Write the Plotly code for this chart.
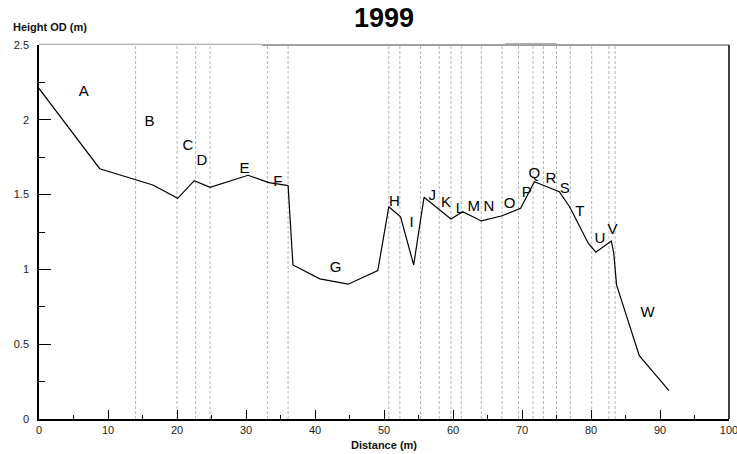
import plotly.graph_objects as go

# Surveyed cross-section profile, 1999
distance = [0.0, 8.8, 16.5, 20.1, 22.5, 24.8, 30.3, 33.3, 36.1, 36.8, 40.7, 44.8,
            49.1, 50.7, 52.4, 54.3, 55.8, 59.7, 61.4, 64.1, 67.0, 69.8, 71.8,
            75.4, 76.9, 79.6, 80.7, 82.95, 83.3, 83.7, 87.0, 91.3]
height = [2.21, 1.673, 1.564, 1.475, 1.593, 1.549, 1.629, 1.58, 1.56, 1.03, 0.937, 0.901,
          0.992, 1.419, 1.352, 1.03, 1.482, 1.337, 1.386, 1.324, 1.357, 1.408, 1.586,
          1.519, 1.419, 1.175, 1.115, 1.19, 1.108, 0.897, 0.423, 0.189]

# Zone boundaries (m)
boundaries = [14.0, 20.0, 22.7, 24.8, 33.1, 36.1, 50.7, 52.3, 55.3, 58.0, 59.7, 61.2,
              64.1, 67.1, 69.5, 71.6, 73.1, 75.0, 77.0, 80.1, 82.6, 83.5]

# Zone labels and where they are written
zone_names = list("ABCDEFGHIJKLMNOPQRSTUVW")
zone_x = [6.5, 16.0, 21.6, 23.6, 29.8, 34.6, 43.0, 51.5, 54.0, 57.0, 59.0, 61.0,
          63.0, 65.2, 68.2, 70.7, 71.8, 74.2, 76.2, 78.4, 81.3, 83.1, 88.2]
zone_y = [2.185, 1.985, 1.82, 1.72, 1.67, 1.585, 1.01, 1.45, 1.31, 1.49, 1.445, 1.405,
          1.415, 1.415, 1.435, 1.51, 1.637, 1.60, 1.538, 1.385, 1.20, 1.26, 0.71]

x_ticks = [0, 10, 20, 30, 40, 50, 60, 70, 80, 90, 100]
y_ticks = [0, 0.5, 1, 1.5, 2, 2.5]

FONT = "Liberation Sans, Arial, sans-serif"

fig = go.Figure()

fig.add_trace(go.Scatter(
    x=distance, y=height, mode="lines",
    line=dict(color="black", width=1.2),
    hoverinfo="skip", showlegend=False,
))

fig.add_trace(go.Scatter(
    x=zone_x, y=zone_y, mode="text", text=zone_names,
    textfont=dict(family=FONT, size=15, color="black"),
    textposition="middle center",
    hoverinfo="skip", showlegend=False,
))

shapes = []
for b in boundaries:
    shapes.append(dict(type="line", xref="x", yref="paper", x0=b, x1=b, y0=0, y1=1,
                       line=dict(color="#b4b4b4", width=1, dash="3px,2px"), layer="below"))

# Frame: right border and top border
shapes.append(dict(type="line", xref="paper", yref="paper", x0=1, x1=1, y0=0, y1=1,
                   line=dict(color="black", width=1.5)))
shapes.append(dict(type="line", xref="x", yref="paper", x0=32.3, x1=100, y0=1, y1=1,
                   line=dict(color="#444444", width=1)))
shapes.append(dict(type="line", xref="x", yref="paper", x0=0, x1=32.3, y0=1.002, y1=1.002,
                   line=dict(color="#9a9a9a", width=1)))
shapes.append(dict(type="line", xref="x", yref="paper", x0=67.6, x1=75.0, y0=1.004, y1=1.004,
                   line=dict(color="#b0b0b0", width=1)))

annotations = [
    dict(text="<b>1999</b>", xref="paper", yref="paper", x=0.5, y=1.0, yshift=27,
         showarrow=False, xanchor="center", yanchor="middle",
         font=dict(family=FONT, size=27, color="black")),
    dict(text="<b>Height OD (m)</b>", xref="paper", yref="paper", x=0, y=1.0,
         xshift=-28, yshift=18, showarrow=False, xanchor="left", yanchor="middle",
         font=dict(family=FONT, size=11, color="#111111")),
    dict(text="<b>Distance (m)</b>", xref="paper", yref="paper", x=0.5, y=0,
         yshift=-26, showarrow=False, xanchor="center", yanchor="middle",
         font=dict(family=FONT, size=11, color="#111111")),
]

fig.update_layout(
    width=737, height=454,
    margin=dict(l=39, r=8, t=45, b=35),
    paper_bgcolor="white", plot_bgcolor="white",
    font=dict(family=FONT, size=11, color="#222222"),
    shapes=shapes, annotations=annotations,
    xaxis=dict(
        range=[0, 100], tickvals=x_ticks, ticktext=[str(v) for v in x_ticks],
        showgrid=False, zeroline=False,
        showline=True, linecolor="black", linewidth=1.5,
        ticks="inside", ticklen=9, tickwidth=1.2, tickcolor="black",
        minor=dict(dtick=5, ticks="inside", ticklen=4, tickwidth=1, tickcolor="black"),
        tickfont=dict(family=FONT, size=11, color="#222222"),
        ticklabeloverflow="allow", automargin=False,
    ),
    yaxis=dict(
        range=[0, 2.5], tickvals=y_ticks, ticktext=["0", "0.5", "1", "1.5", "2", "2.5"],
        showgrid=False, zeroline=False,
        showline=True, linecolor="black", linewidth=1.5,
        ticks="inside", ticklen=12, tickwidth=1.2, tickcolor="black",
        minor=dict(dtick=0.25, ticks="inside", ticklen=6, tickwidth=1, tickcolor="black"),
        tickfont=dict(family=FONT, size=11, color="#222222"),
        ticklabelstandoff=6, automargin=False,
    ),
)

fig.write_html("out.html")
